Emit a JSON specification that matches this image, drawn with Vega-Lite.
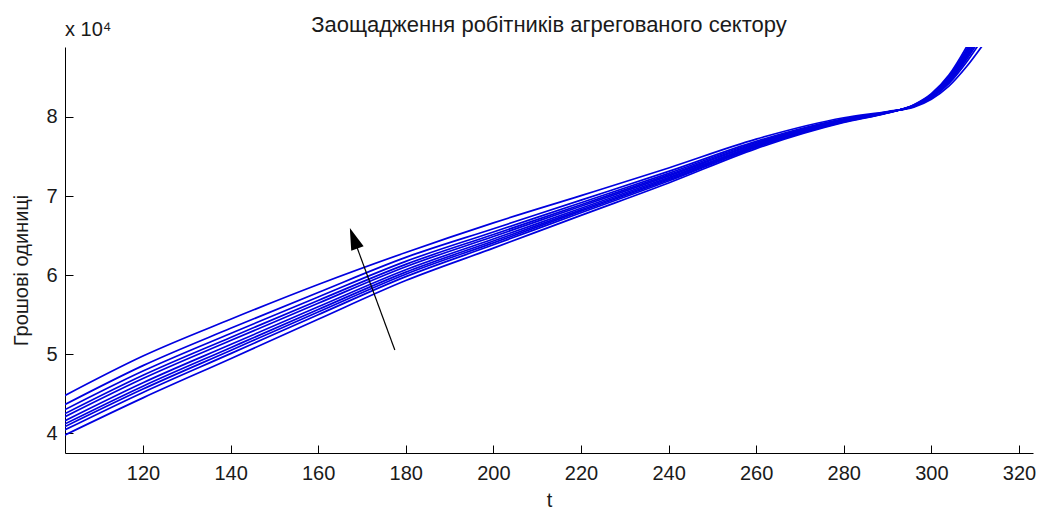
{
  "$schema": "https://vega.github.io/schema/vega-lite/v6.json",
  "autosize": {"type": "none"},
  "width": 968,
  "height": 406,
  "padding": {"left": 65, "top": 47, "right": 11, "bottom": 62},
  "background": "white",
  "config": {
    "view": {"stroke": null},
    "font": "Liberation Sans",
    "axis": {
      "grid": false,
      "domainColor": "#000000",
      "domainWidth": 1,
      "tickColor": "#000000",
      "tickWidth": 1,
      "labelColor": "#1a1a1a",
      "titleColor": "#1a1a1a",
      "labelFont": "Liberation Sans",
      "titleFont": "Liberation Sans",
      "labelFontSize": 20,
      "titleFontSize": 20,
      "titleFontWeight": "normal"
    }
  },
  "title": {
    "text": "Заощадження робітників агрегованого сектору",
    "font": "Liberation Sans",
    "fontSize": 22,
    "fontWeight": "normal",
    "color": "#1a1a1a",
    "anchor": "middle",
    "frame": "group",
    "offset": -17
  },
  "datasets": {
    "savings": [
      {"s":0,"t":102,"v":39700},{"s":0,"t":120,"v":44450},{"s":0,"t":140,"v":49400},{"s":0,"t":160,"v":54400},{"s":0,"t":180,"v":59300},{"s":0,"t":200,"v":63400},{"s":0,"t":220,"v":67550},{"s":0,"t":240,"v":71650},{"s":0,"t":260,"v":76000},{"s":0,"t":280,"v":79300},{"s":0,"t":290,"v":80500},{"s":0,"t":296,"v":81550},{"s":0,"t":300,"v":82950},{"s":0,"t":304,"v":85300},{"s":0,"t":308,"v":88850},{"s":0,"t":312,"v":93100},{"s":0,"t":316,"v":97500},
      {"s":1,"t":102,"v":40350},{"s":1,"t":120,"v":45140},{"s":1,"t":140,"v":50050},{"s":1,"t":160,"v":54970},{"s":1,"t":180,"v":59790},{"s":1,"t":200,"v":63820},{"s":1,"t":220,"v":67880},{"s":1,"t":240,"v":71900},{"s":1,"t":260,"v":76160},{"s":1,"t":280,"v":79380},{"s":1,"t":290,"v":80530},{"s":1,"t":296,"v":81510},{"s":1,"t":300,"v":82860},{"s":1,"t":304,"v":85120},{"s":1,"t":308,"v":88530},{"s":1,"t":312,"v":92610},{"s":1,"t":316,"v":96850},
      {"s":2,"t":102,"v":40750},{"s":2,"t":120,"v":45560},{"s":2,"t":140,"v":50450},{"s":2,"t":160,"v":55320},{"s":2,"t":180,"v":60100},{"s":2,"t":200,"v":64070},{"s":2,"t":220,"v":68080},{"s":2,"t":240,"v":72050},{"s":2,"t":260,"v":76250},{"s":2,"t":280,"v":79430},{"s":2,"t":290,"v":80540},{"s":2,"t":296,"v":81490},{"s":2,"t":300,"v":82800},{"s":2,"t":304,"v":85010},{"s":2,"t":308,"v":88330},{"s":2,"t":312,"v":92300},{"s":2,"t":316,"v":96450},
      {"s":3,"t":102,"v":41100},{"s":3,"t":120,"v":45930},{"s":3,"t":140,"v":50800},{"s":3,"t":160,"v":55630},{"s":3,"t":180,"v":60360},{"s":3,"t":200,"v":64300},{"s":3,"t":220,"v":68250},{"s":3,"t":240,"v":72180},{"s":3,"t":260,"v":76340},{"s":3,"t":280,"v":79470},{"s":3,"t":290,"v":80560},{"s":3,"t":296,"v":81470},{"s":3,"t":300,"v":82750},{"s":3,"t":304,"v":84910},{"s":3,"t":308,"v":88150},{"s":3,"t":312,"v":92040},{"s":3,"t":316,"v":96100},
      {"s":4,"t":102,"v":41500},{"s":4,"t":120,"v":46360},{"s":4,"t":140,"v":51200},{"s":4,"t":160,"v":55980},{"s":4,"t":180,"v":60670},{"s":4,"t":200,"v":64550},{"s":4,"t":220,"v":68450},{"s":4,"t":240,"v":72330},{"s":4,"t":260,"v":76430},{"s":4,"t":280,"v":79520},{"s":4,"t":290,"v":80570},{"s":4,"t":296,"v":81440},{"s":4,"t":300,"v":82700},{"s":4,"t":304,"v":84800},{"s":4,"t":308,"v":87950},{"s":4,"t":312,"v":91730},{"s":4,"t":316,"v":95700},
      {"s":5,"t":102,"v":42000},{"s":5,"t":120,"v":46890},{"s":5,"t":140,"v":51700},{"s":5,"t":160,"v":56420},{"s":5,"t":180,"v":61050},{"s":5,"t":200,"v":64870},{"s":5,"t":220,"v":68700},{"s":5,"t":240,"v":72520},{"s":5,"t":260,"v":76550},{"s":5,"t":280,"v":79580},{"s":5,"t":290,"v":80590},{"s":5,"t":296,"v":81410},{"s":5,"t":300,"v":82630},{"s":5,"t":304,"v":84660},{"s":5,"t":308,"v":87700},{"s":5,"t":312,"v":91350},{"s":5,"t":316,"v":95200},
      {"s":6,"t":102,"v":42400},{"s":6,"t":120,"v":47310},{"s":6,"t":140,"v":52100},{"s":6,"t":160,"v":56780},{"s":6,"t":180,"v":61350},{"s":6,"t":200,"v":65130},{"s":6,"t":220,"v":68900},{"s":6,"t":240,"v":72680},{"s":6,"t":260,"v":76650},{"s":6,"t":280,"v":79620},{"s":6,"t":290,"v":80610},{"s":6,"t":296,"v":81390},{"s":6,"t":300,"v":82570},{"s":6,"t":304,"v":84540},{"s":6,"t":308,"v":87500},{"s":6,"t":312,"v":91050},{"s":6,"t":316,"v":94800},
      {"s":7,"t":102,"v":42900},{"s":7,"t":120,"v":47840},{"s":7,"t":140,"v":52600},{"s":7,"t":160,"v":57220},{"s":7,"t":180,"v":61730},{"s":7,"t":200,"v":65450},{"s":7,"t":220,"v":69150},{"s":7,"t":240,"v":72870},{"s":7,"t":260,"v":76770},{"s":7,"t":280,"v":79680},{"s":7,"t":290,"v":80630},{"s":7,"t":296,"v":81360},{"s":7,"t":300,"v":82500},{"s":7,"t":304,"v":84400},{"s":7,"t":308,"v":87250},{"s":7,"t":312,"v":90670},{"s":7,"t":316,"v":94300},
      {"s":8,"t":102,"v":43550},{"s":8,"t":120,"v":48530},{"s":8,"t":140,"v":53250},{"s":8,"t":160,"v":57790},{"s":8,"t":180,"v":62230},{"s":8,"t":200,"v":65860},{"s":8,"t":220,"v":69480},{"s":8,"t":240,"v":73110},{"s":8,"t":260,"v":76920},{"s":8,"t":280,"v":79760},{"s":8,"t":290,"v":80650},{"s":8,"t":296,"v":81320},{"s":8,"t":300,"v":82410},{"s":8,"t":304,"v":84220},{"s":8,"t":308,"v":86930},{"s":8,"t":312,"v":90170},{"s":8,"t":316,"v":93650},
      {"s":9,"t":102,"v":44700},{"s":9,"t":120,"v":49750},{"s":9,"t":140,"v":54400},{"s":9,"t":160,"v":58800},{"s":9,"t":180,"v":62850},{"s":9,"t":200,"v":66600},{"s":9,"t":220,"v":70050},{"s":9,"t":240,"v":73550},{"s":9,"t":260,"v":77200},{"s":9,"t":280,"v":79900},{"s":9,"t":290,"v":80700},{"s":9,"t":296,"v":81250},{"s":9,"t":300,"v":82250},{"s":9,"t":304,"v":83900},{"s":9,"t":308,"v":86350},{"s":9,"t":312,"v":89300},{"s":9,"t":316,"v":92500}
    ],
    "arrow": [
      {"t0": 177.5, "v0": 50500, "t1": 168.1, "v1": 64650}
    ],
    "scale_note": [
      {"t": 102.2, "v": 88860, "label": "x 10⁴"}
    ]
  },
  "encoding": {
    "x": {
      "type": "quantitative",
      "scale": {"domain": [102.2, 323.2], "nice": false, "zero": false}
    },
    "y": {
      "type": "quantitative",
      "scale": {"domain": [37470, 88860], "nice": false, "zero": false}
    }
  },
  "layer": [
    {
      "data": {"name": "savings"},
      "mark": {"type": "line", "clip": true, "color": "#0000e0", "strokeWidth": 1.7, "interpolate": "monotone"},
      "encoding": {
        "x": {
          "field": "t",
          "type": "quantitative",
          "axis": {
            "values": [120, 140, 160, 180, 200, 220, 240, 260, 280, 300, 320],
            "tickSize": -8,
            "labelPadding": 18,
            "title": "t",
            "titleY": 47,
            "titleBaseline": "middle"
          }
        },
        "y": {
          "field": "v",
          "type": "quantitative",
          "axis": {
            "values": [40000, 50000, 60000, 70000, 80000],
            "labelExpr": "datum.value / 10000",
            "tickSize": -8,
            "labelPadding": 16,
            "title": "Грошові одиниці",
            "titleAngle": 270,
            "titleX": -44,
            "titleY": 223,
            "titleAlign": "center",
            "titleBaseline": "middle"
          }
        },
        "detail": {"field": "s", "type": "nominal"}
      }
    },
    {
      "data": {"name": "arrow"},
      "mark": {"type": "rule", "color": "#000000", "strokeWidth": 1.2},
      "encoding": {
        "x": {"field": "t0", "type": "quantitative"},
        "y": {"field": "v0", "type": "quantitative"},
        "x2": {"field": "t1"},
        "y2": {"field": "v1"}
      }
    },
    {
      "data": {"name": "arrow"},
      "mark": {
        "type": "point",
        "shape": "M0,-1L0.6,1L-0.6,1Z",
        "size": 484,
        "angle": 339.8,
        "filled": true,
        "color": "#000000",
        "opacity": 1
      },
      "encoding": {
        "x": {"field": "t1", "type": "quantitative"},
        "y": {"field": "v1", "type": "quantitative"}
      }
    },
    {
      "data": {"name": "scale_note"},
      "mark": {"type": "text", "align": "left", "baseline": "alphabetic", "dy": -11, "fontSize": 20, "font": "Liberation Sans", "color": "#1a1a1a"},
      "encoding": {
        "x": {"field": "t", "type": "quantitative"},
        "y": {"field": "v", "type": "quantitative"},
        "text": {"field": "label"}
      }
    }
  ]
}
